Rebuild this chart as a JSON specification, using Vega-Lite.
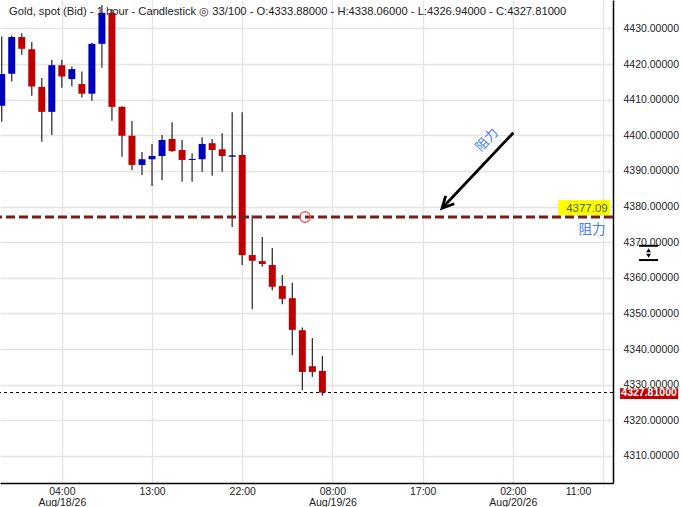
{
  "$schema": "https://vega.github.io/schema/vega-lite/v6.json",
  "width": 613,
  "height": 483,
  "padding": {"left": 0, "top": 0, "right": 69, "bottom": 24},
  "autosize": {"type": "none"},
  "background": "white",
  "title": {
    "text": "Gold, spot (Bid) - 1 hour - Candlestick   ◎   33/100 - O:4333.88000 - H:4338.06000 - L:4326.94000 - C:4327.81000",
    "anchor": "start",
    "frame": "group",
    "offset": -26,
    "dx": 9,
    "baseline": "alphabetic",
    "fontSize": 11.2,
    "fontWeight": "normal",
    "font": "Liberation Sans",
    "color": "#222222"
  },
  "config": {"view": {"stroke": null}, "font": "Liberation Sans"},
  "datasets": {
    "candles": [
      {"i": -6, "o": 4408.3, "h": 4427.7, "l": 4403.8, "c": 4417.2},
      {"i": -5, "o": 4417.3, "h": 4428.0, "l": 4415.1, "c": 4427.6},
      {"i": -4, "o": 4427.6, "h": 4428.7, "l": 4422.6, "c": 4424.3},
      {"i": -3, "o": 4424.2, "h": 4426.2, "l": 4411.1, "c": 4413.7},
      {"i": -2, "o": 4413.6, "h": 4416.1, "l": 4398.2, "c": 4406.6},
      {"i": -1, "o": 4406.6, "h": 4421.2, "l": 4400.1, "c": 4419.7},
      {"i": 0, "o": 4419.7, "h": 4421.2, "l": 4413.4, "c": 4416.5},
      {"i": 1, "o": 4415.8, "h": 4419.3, "l": 4413.7, "c": 4418.6},
      {"i": 2, "o": 4414.4, "h": 4417.9, "l": 4410.6, "c": 4411.7},
      {"i": 3, "o": 4411.7, "h": 4426.0, "l": 4409.7, "c": 4425.7},
      {"i": 4, "o": 4425.7, "h": 4436.6, "l": 4419.0, "c": 4434.4},
      {"i": 5, "o": 4434.4, "h": 4435.5, "l": 4404.1, "c": 4408.0},
      {"i": 6, "o": 4408.0, "h": 4408.2, "l": 4394.0, "c": 4399.9},
      {"i": 7, "o": 4399.9, "h": 4404.0, "l": 4390.3, "c": 4391.7},
      {"i": 8, "o": 4391.7, "h": 4395.3, "l": 4388.9, "c": 4393.3},
      {"i": 9, "o": 4393.3, "h": 4397.6, "l": 4385.8, "c": 4394.2},
      {"i": 10, "o": 4394.2, "h": 4400.1, "l": 4387.4, "c": 4398.7},
      {"i": 11, "o": 4399.0, "h": 4403.7, "l": 4395.3, "c": 4395.6},
      {"i": 12, "o": 4395.9, "h": 4398.7, "l": 4387.0, "c": 4393.1},
      {"i": 13, "o": 4393.1, "h": 4395.0, "l": 4387.0, "c": 4393.4},
      {"i": 14, "o": 4393.3, "h": 4399.5, "l": 4389.8, "c": 4397.6},
      {"i": 15, "o": 4397.8, "h": 4399.0, "l": 4388.7, "c": 4395.9},
      {"i": 16, "o": 4396.1, "h": 4400.6, "l": 4389.8, "c": 4394.2},
      {"i": 17, "o": 4394.0, "h": 4406.5, "l": 4374.3, "c": 4394.4},
      {"i": 18, "o": 4394.5, "h": 4406.5, "l": 4363.6, "c": 4366.4},
      {"i": 19, "o": 4366.4, "h": 4377.6, "l": 4351.2, "c": 4364.8},
      {"i": 20, "o": 4364.7, "h": 4371.5, "l": 4363.1, "c": 4363.9},
      {"i": 21, "o": 4363.6, "h": 4368.4, "l": 4356.5, "c": 4357.5},
      {"i": 22, "o": 4357.7, "h": 4360.8, "l": 4352.6, "c": 4354.1},
      {"i": 23, "o": 4354.3, "h": 4358.6, "l": 4338.3, "c": 4345.4},
      {"i": 24, "o": 4345.3, "h": 4346.1, "l": 4328.5, "c": 4333.6},
      {"i": 25, "o": 4335.2, "h": 4343.1, "l": 4332.2, "c": 4333.6},
      {"i": 26, "o": 4333.88, "h": 4338.06, "l": 4326.94, "c": 4327.81}
    ]
  },
  "layer": [
    {
      "data": {"name": "candles"},
      "mark": {"type": "rule", "color": "#333333", "strokeWidth": 1.3, "clip": true},
      "encoding": {
        "x": {
          "field": "i", "type": "quantitative",
          "scale": {"domain": [-6.17, 55.0], "nice": false, "zero": false, "padding": 0},
          "axis": {
            "title": null,
            "values": [0, 9, 18, 27, 36, 45, 54],
            "labelExpr": "datum.value == 0 ? ['04:00','Aug/18/26'] : datum.value == 9 ? '13:00' : datum.value == 18 ? '22:00' : datum.value == 27 ? ['08:00','Aug/19/26'] : datum.value == 36 ? '17:00' : datum.value == 45 ? ['02:00','Aug/20/26'] : '11:00'",
            "grid": true, "gridColor": "#e3e3e3", "gridWidth": 1.3,
            "ticks": false,
            "domainColor": "#000000", "domainWidth": 1.5,
            "labelColor": "#222222", "labelFontSize": 10.5, "labelFont": "Liberation Sans",
            "labelPadding": 3, "labelLineHeight": 11,
            "labelOffset": {"condition": {"test": "datum.value == 54", "value": -25}, "value": 0},
            "labelFlush": false, "labelOverlap": false
          }
        },
        "y": {
          "field": "l", "type": "quantitative",
          "scale": {"domain": [4302.42, 4438.0], "nice": false, "zero": false, "padding": 0},
          "axis": {
            "title": null, "orient": "right",
            "values": [4310, 4320, 4330, 4340, 4350, 4360, 4370, 4380, 4390, 4400, 4410, 4420, 4430],
            "format": ".5f",
            "grid": true, "gridColor": "#e3e3e3", "gridWidth": 1.3,
            "ticks": false,
            "domainColor": "#000000", "domainWidth": 1.5,
            "labelColor": "#222222", "labelFontSize": 10.5, "labelFont": "Liberation Sans",
            "labelPadding": 10
          }
        },
        "y2": {"field": "h"}
      }
    },
    {
      "data": {"name": "candles"},
      "mark": {"type": "bar", "size": 7, "clip": true},
      "encoding": {
        "x": {"field": "i", "type": "quantitative", "axis": {"title": null}},
        "y": {"field": "o", "type": "quantitative", "axis": {"title": null}},
        "y2": {"field": "c"},
        "color": {"condition": {"test": "datum.c >= datum.o", "value": "#0000c0"}, "value": "#c00000"}
      }
    },
    {
      "data": {"values": [{"p": 4377.09}]},
      "mark": {"type": "rule", "color": "#7a1c1c", "strokeWidth": 3, "strokeDash": [9, 4]},
      "encoding": {
        "y": {"field": "p", "type": "quantitative", "axis": {"title": null}}
      }
    },
    {
      "data": {"values": [{"p": 4327.81}]},
      "mark": {"type": "rule", "color": "#000000", "strokeWidth": 1, "strokeDash": [3, 3]},
      "encoding": {
        "y": {"field": "p", "type": "quantitative", "axis": {"title": null}}
      }
    },
    {
      "data": {"values": [{"i": 24.27, "p": 4377.09}]},
      "mark": {"type": "point", "shape": "circle", "size": 110, "filled": false, "stroke": "#f25a5a", "strokeWidth": 1.3, "opacity": 1},
      "encoding": {
        "x": {"field": "i", "type": "quantitative", "axis": {"title": null}},
        "y": {"field": "p", "type": "quantitative", "axis": {"title": null}}
      }
    },
    {
      "data": {"values": [{"i1": 49.52, "i2": 54.71, "p1": 4377.65, "p2": 4381.86}]},
      "mark": {"type": "rect", "color": "#ffff00"},
      "encoding": {
        "x": {"field": "i1", "type": "quantitative", "axis": {"title": null}},
        "x2": {"field": "i2"},
        "y": {"field": "p1", "type": "quantitative", "axis": {"title": null}},
        "y2": {"field": "p2"}
      }
    },
    {
      "data": {"values": [{"i": 52.4, "p": 4379.3, "t": "4377.09"}]},
      "mark": {"type": "text", "fontSize": 11.5, "color": "#4b5e00", "align": "center", "baseline": "middle", "font": "Liberation Sans"},
      "encoding": {
        "x": {"field": "i", "type": "quantitative", "axis": {"title": null}},
        "y": {"field": "p", "type": "quantitative", "axis": {"title": null}},
        "text": {"field": "t"}
      }
    },
    {
      "data": {"values": [{"i": 52.9, "p": 4373.4, "t": "阻力"}]},
      "mark": {"type": "text", "fontSize": 13.5, "color": "#4a7cf0", "align": "center", "baseline": "middle", "font": "Noto Sans CJK SC"},
      "encoding": {
        "x": {"field": "i", "type": "quantitative", "axis": {"title": null}},
        "y": {"field": "p", "type": "quantitative", "axis": {"title": null}},
        "text": {"field": "t"}
      }
    },
    {
      "data": {"values": [{"i1": 45.06, "p1": 4400.75, "i2": 37.94, "p2": 4379.53}]},
      "mark": {"type": "rule", "color": "#000000", "strokeWidth": 2.8},
      "encoding": {
        "x": {"field": "i1", "type": "quantitative", "axis": {"title": null}},
        "x2": {"field": "i2"},
        "y": {"field": "p1", "type": "quantitative", "axis": {"title": null}},
        "y2": {"field": "p2"}
      }
    },
    {
      "data": {"values": [{"i": 37.94, "p": 4379.53}]},
      "mark": {"type": "point", "shape": "M-0.5,-1L0,0L0.5,-1", "size": 540, "angle": 43, "filled": false, "stroke": "#000000", "strokeWidth": 2.8, "opacity": 1},
      "encoding": {
        "x": {"field": "i", "type": "quantitative", "axis": {"title": null}},
        "y": {"field": "p", "type": "quantitative", "axis": {"title": null}}
      }
    },
    {
      "data": {"values": [{"i": 42.43, "p": 4398.7, "t": "阻力"}]},
      "mark": {"type": "text", "fontSize": 13, "color": "#4a7cf0", "align": "center", "baseline": "middle", "angle": -47, "font": "Noto Sans CJK SC"},
      "encoding": {
        "x": {"field": "i", "type": "quantitative", "axis": {"title": null}},
        "y": {"field": "p", "type": "quantitative", "axis": {"title": null}},
        "text": {"field": "t"}
      }
    },
    {
      "data": {"values": [{"i1": 55.71, "i2": 61.5, "p1": 4326.0, "p2": 4329.0}]},
      "mark": {"type": "rect", "color": "#c00000"},
      "encoding": {
        "x": {"field": "i1", "type": "quantitative", "axis": {"title": null}},
        "x2": {"field": "i2"},
        "y": {"field": "p1", "type": "quantitative", "axis": {"title": null}},
        "y2": {"field": "p2"}
      }
    },
    {
      "data": {"values": [{"i": 58.6, "p": 4327.55, "t": "4327.81000"}]},
      "mark": {"type": "text", "fontSize": 10.5, "fontWeight": "bold", "color": "#ffffff", "align": "center", "baseline": "middle", "font": "Liberation Sans"},
      "encoding": {
        "x": {"field": "i", "type": "quantitative", "axis": {"title": null}},
        "y": {"field": "p", "type": "quantitative", "axis": {"title": null}},
        "text": {"field": "t"}
      }
    },
    {
      "data": {"values": [{"i1": 57.6, "i2": 59.5, "p": 4369.0}, {"i1": 57.6, "i2": 59.5, "p": 4365.0}]},
      "mark": {"type": "rule", "color": "#000000", "strokeWidth": 2},
      "encoding": {
        "x": {"field": "i1", "type": "quantitative", "axis": {"title": null}},
        "x2": {"field": "i2"},
        "y": {"field": "p", "type": "quantitative", "axis": {"title": null}}
      }
    },
    {
      "data": {"values": [{"i": 58.55, "p": 4367.75, "k": "up"}, {"i": 58.55, "p": 4366.2, "k": "down"}]},
      "mark": {"type": "point", "filled": true, "color": "#000000", "size": 22, "opacity": 1},
      "encoding": {
        "x": {"field": "i", "type": "quantitative", "axis": {"title": null}},
        "y": {"field": "p", "type": "quantitative", "axis": {"title": null}},
        "shape": {"condition": {"test": "datum.k == 'up'", "value": "triangle-up"}, "value": "triangle-down"}
      }
    }
  ]
}
